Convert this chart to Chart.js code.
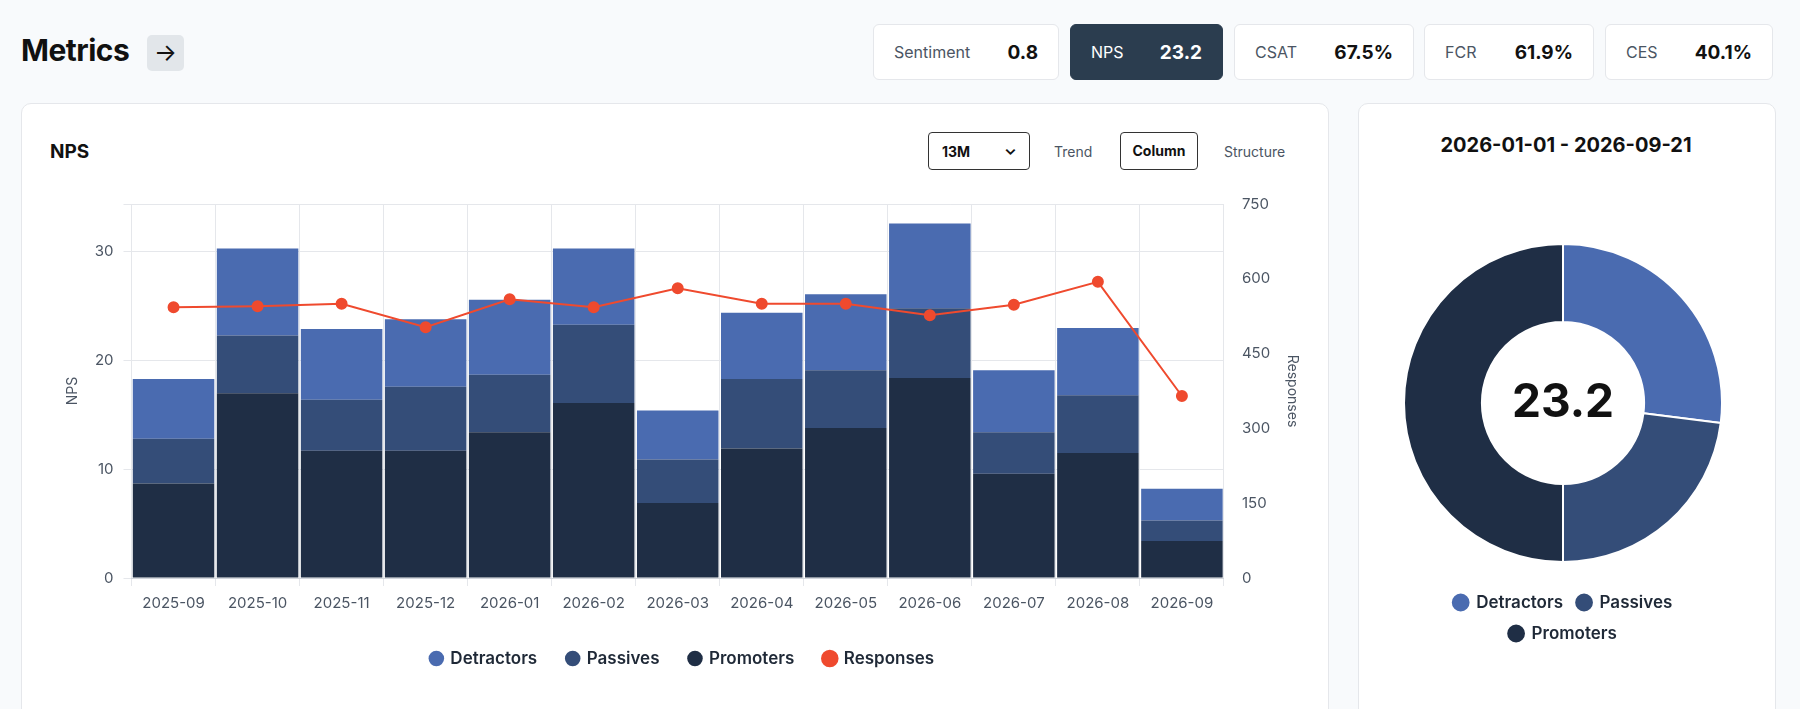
<!DOCTYPE html>
<html><head><meta charset="utf-8">
<script src="https://cdn.jsdelivr.net/npm/chart.js@4"></script>
<style>
body{margin:0;width:1800px;height:709px;background:#f8fafc;font-family:Inter,"Noto Sans",sans-serif;overflow:hidden;position:relative;color:#111}
.title{position:absolute;left:21px;top:32px;font-size:30px;font-weight:700;letter-spacing:-0.5px}
.arrow{position:absolute;left:147px;top:35px;width:37px;height:36px;background:#e2e6ea;border-radius:5px;font-size:24px;text-align:center;line-height:35px}
.kpi{position:absolute;top:24px;height:56px;background:#fff;border:1px solid #e5e7eb;border-radius:6px;display:flex;align-items:center;justify-content:space-between;padding:0 20px;box-sizing:border-box}
.kpi .l{font-size:16px;color:#4b5563}.kpi .v{font-size:19px;font-weight:700}
.kpi.dark{background:#2b3d4f;border-color:#2b3d4f}.kpi.dark .l,.kpi.dark .v{color:#fff}
.card{position:absolute;background:#fff;border:1px solid #e5e7eb;border-radius:10px}
.h{position:absolute;left:50px;top:140px;font-size:19px;font-weight:700}
.sel{position:absolute;left:928px;top:132px;width:102px;height:38px;border:1px solid #333;border-radius:4px;box-sizing:border-box;font-size:14px;font-weight:700;padding:10px 0 0 13px}
.sel span{position:absolute;right:12px;top:6px;font-size:16px}
.tab{position:absolute;top:143px;font-size:14px;color:#4b5563}
.colb{position:absolute;left:1120px;top:132px;width:78px;height:38px;border:1px solid #333;border-radius:4px;box-sizing:border-box;font-size:14px;font-weight:700;text-align:center;line-height:36px}
.rt{position:absolute;left:1358px;top:133px;width:416px;text-align:center;font-size:20px;font-weight:700}
</style></head><body>
<div class="title">Metrics</div><div class="arrow">→</div>
<div class="kpi" style="left:873px;width:186px"><span class="l">Sentiment</span><span class="v">0.8</span></div>
<div class="kpi dark" style="left:1070px;width:153px"><span class="l">NPS</span><span class="v">23.2</span></div>
<div class="kpi" style="left:1234px;width:180px"><span class="l">CSAT</span><span class="v">67.5%</span></div>
<div class="kpi" style="left:1424px;width:170px"><span class="l">FCR</span><span class="v">61.9%</span></div>
<div class="kpi" style="left:1605px;width:168px"><span class="l">CES</span><span class="v">40.1%</span></div>
<div class="card" style="left:21px;top:103px;width:1306px;height:640px"></div>
<div class="card" style="left:1358px;top:103px;width:416px;height:640px"></div>
<div class="h">NPS</div>
<div class="sel">13M<span>⌄</span></div>
<div class="tab" style="left:1054px">Trend</div>
<div class="colb">Column</div>
<div class="tab" style="left:1224px">Structure</div>
<div class="rt">2026-01-01 - 2026-09-21</div>
<div style="position:absolute;left:50px;top:185px;width:1255px;height:492px"><canvas id="c1"></canvas></div>
<div style="position:absolute;left:1403px;top:226px;width:320px;height:430px"><canvas id="c2"></canvas></div>
<script>
const categories=["2025-09","2025-10","2025-11","2025-12","2026-01","2026-02","2026-03","2026-04","2026-05","2026-06","2026-07","2026-08","2026-09"];
const promoters=[8.7,17.0,11.7,11.7,13.4,16.1,6.9,11.9,13.8,18.4,9.6,11.5,3.4];
const passives=[4.1,5.3,4.7,5.9,5.3,7.2,4.0,6.4,5.3,6.4,3.8,5.3,1.9];
const detractors=[5.5,8.0,6.5,6.2,6.9,7.0,4.5,6.1,7.0,7.8,5.7,6.2,2.9];
const responses=[543,545,550,503,559,543,581,550,550,527,548,594,365];
const donutLabels=["Detractors","Passives","Promoters"];
const donutValues=[27,23,50];
const npsValue="23.2";
const C={d:"#4a6bb0",p:"#344d78",pr:"#1f2e45",r:"#ef4a2e"};
Chart.defaults.font.family="Inter, 'Noto Sans', sans-serif";
Chart.defaults.color="#4b5563";
const bp={stack:'s',order:1,categoryPercentage:0.97,barPercentage:1};
new Chart(document.getElementById('c1'),{
 data:{labels:categories,datasets:[
  {type:'line',label:'Responses',data:responses,yAxisID:'y1',borderColor:C.r,backgroundColor:C.r,borderWidth:2,pointRadius:5,order:0,tension:0},
  {type:'bar',label:'Promoters',data:promoters,backgroundColor:C.pr,...bp},
  {type:'bar',label:'Passives',data:passives,backgroundColor:C.p,...bp},
  {type:'bar',label:'Detractors',data:detractors,backgroundColor:C.d,...bp}
 ]},
 options:{responsive:true,maintainAspectRatio:false,animation:false,
  layout:{padding:{left:10,right:0}},
  plugins:{legend:{position:'bottom',labels:{usePointStyle:true,pointStyle:'circle',boxWidth:11,boxHeight:11,padding:30,color:'#1f2937',font:{size:17,weight:'600'},
    sort:(a,b)=>{const o=['Detractors','Passives','Promoters','Responses'];return o.indexOf(a.text)-o.indexOf(b.text);}}},
   tooltip:{enabled:false}},
  scales:{
   x:{stacked:true,grid:{color:'#e5e7eb',offset:true},border:{color:'#d1d5db'},ticks:{font:{size:15},padding:8}},
   y:{stacked:true,min:0,max:34.4,ticks:{stepSize:10,font:{size:15},padding:10,callback:v=>v%10===0?v:''},grid:{color:'#e5e7eb'},border:{display:false},title:{display:true,text:'NPS',font:{size:14}}},
   y1:{position:'right',min:0,max:750,ticks:{stepSize:150,font:{size:15},padding:10},grid:{display:false},border:{display:false},title:{display:true,text:'Responses',font:{size:14}}}
  }}
});
new Chart(document.getElementById('c2'),{type:'doughnut',
 data:{labels:donutLabels,datasets:[{data:donutValues,backgroundColor:[C.d,C.p,C.pr],borderColor:'#fff',borderWidth:2}]},
 options:{responsive:true,maintainAspectRatio:false,animation:false,cutout:'51%',
  layout:{padding:{bottom:4}},
  plugins:{tooltip:{enabled:false},legend:{position:'bottom',labels:{usePointStyle:true,pointStyle:'circle',boxWidth:14,boxHeight:14,padding:14,color:'#1f2937',font:{size:17,weight:'600'}}}}},
 plugins:[{id:'ctr',afterDraw(ch){const m=ch.getDatasetMeta(0).data[0];const c=ch.ctx;c.save();c.font="700 46px Inter";c.fillStyle='#111';c.textAlign='center';c.textBaseline='middle';c.fillText(npsValue,m.x,m.y);c.restore();}}]
});
</script>
</body></html>
